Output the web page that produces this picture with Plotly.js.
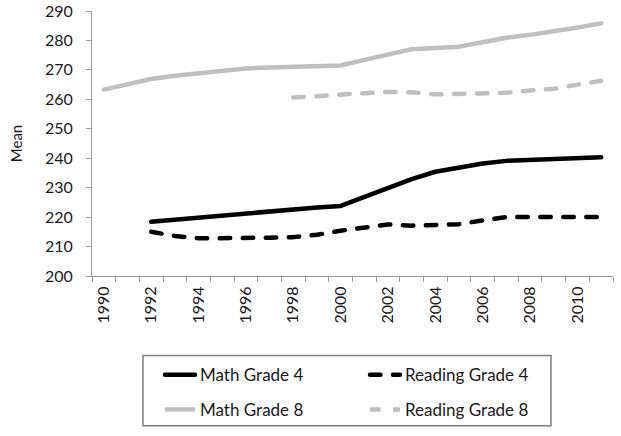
<!DOCTYPE html>
<html>
<head>
<meta charset="utf-8">
<script src="https://cdn.plot.ly/plotly-3.0.1.min.js"></script>
<style>
html, body { margin: 0; padding: 0; background: #fff; }
#chart { width: 621px; height: 436px; }
.scatterlayer .js-line, .legend .js-line { stroke-linecap: round !important; stroke-linejoin: round !important; }
</style>
</head>
<body>
<div id="chart"></div>
<script>
// Categories (years)
const years = [1990,1991,1992,1993,1994,1995,1996,1997,1998,1999,2000,2001,2002,2003,2004,2005,2006,2007,2008,2009,2010,2011];
const tickYears = [1990,1992,1994,1996,1998,2000,2002,2004,2006,2008,2010];

// Series values (null = no data)
const mathGrade4 = [null,null,218.4,219.1,219.8,220.6,221.4,222.1,222.7,223.3,223.8,226.9,230.1,232.9,235.4,236.9,238.2,239.1,239.4,239.5,239.9,240.3];
const readingGrade4 = [null,null,215.0,213.6,212.8,212.8,212.9,213.0,213.2,214.0,215.4,216.4,217.5,217.1,217.4,217.6,218.9,220.0,220.0,220.0,220.0,220.0];
const mathGrade8 = [263.3,265.1,266.9,268.0,268.9,269.8,270.5,270.8,271.0,271.3,271.5,273.4,275.2,277.0,277.4,277.9,279.4,280.9,281.9,283.0,284.4,285.8];
const readingGrade8 = [null,null,null,null,null,null,null,null,260.6,261.2,261.7,262.1,262.5,262.4,261.7,261.9,262.0,262.2,263.0,263.6,265.0,266.3];

const FONT = 'Lato, "Open Sans", sans-serif';
const BLACK = '#000000';
const GREY = '#bfbfbf';
const LW = 4.5;
const DASH = '10.5px,12.5px';

const traces = [
  {x: years, y: mathGrade4, name: 'Math Grade 4', mode: 'lines', legend: 'legend',
   line: {color: BLACK, width: LW}},
  {x: years, y: readingGrade4, name: 'Reading Grade 4', mode: 'lines', legend: 'legend',
   line: {color: BLACK, width: LW, dash: DASH}},
  {x: years, y: mathGrade8, name: 'Math Grade 8', mode: 'lines', legend: 'legend2',
   line: {color: GREY, width: LW}},
  {x: years, y: readingGrade8, name: 'Reading Grade 8', mode: 'lines', legend: 'legend2',
   line: {color: GREY, width: LW, dash: DASH}}
];

const legendCommon = {
  orientation: 'h', xanchor: 'left', yanchor: 'middle',
  bgcolor: 'rgba(0,0,0,0)', borderwidth: 0,
  font: {family: FONT, size: 17, color: '#1a1a1a'},
  entrywidth: 160, entrywidthmode: 'pixels', traceorder: 'normal'
};

const layout = {
  width: 621, height: 436,
  margin: {l: 92, r: 8, t: 11, b: 158},
  paper_bgcolor: '#ffffff', plot_bgcolor: '#ffffff',
  font: {family: FONT, size: 16, color: '#1a1a1a'},
  showlegend: true,
  xaxis: {
    range: [1989.5, 2011.5],
    tickmode: 'array', tickvals: tickYears, ticktext: tickYears.map(String),
    tickangle: -90, ticks: '', ticklabelstandoff: 3,
    tickfont: {family: FONT, size: 16, color: '#1a1a1a'},
    showline: true, linecolor: '#9a9a9a', linewidth: 1,
    showgrid: false, zeroline: false,
    minor: {ticks: 'outside', ticklen: 5, tickcolor: '#9a9a9a', tickwidth: 1, tick0: 1989.5, dtick: 1, showgrid: false}
  },
  yaxis: {
    range: [200, 290], tick0: 200, dtick: 10,
    ticks: 'outside', ticklen: 5, tickcolor: '#9a9a9a', tickwidth: 1,
    ticklabelstandoff: 10,
    tickfont: {family: FONT, size: 16, color: '#1a1a1a'},
    showline: true, linecolor: '#9a9a9a', linewidth: 1,
    showgrid: false, zeroline: false,
    title: {text: 'Mean', standoff: 18, font: {family: FONT, size: 15, color: '#1a1a1a'}}
  },
  legend: Object.assign({x: 0.1305, y: -0.3745}, legendCommon),
  legend2: Object.assign({x: 0.1305, y: -0.5056}, legendCommon),
  shapes: [{
    type: 'rect', xref: 'paper', yref: 'paper',
    x0: 0.0979, x1: 0.881, y0: -0.5655, y1: -0.2996,
    line: {color: '#7f7f7f', width: 1.5}, fillcolor: 'rgba(0,0,0,0)'
  }]
};

Plotly.newPlot('chart', traces, layout, {displayModeBar: false, staticPlot: true});
</script>
</body>
</html>
